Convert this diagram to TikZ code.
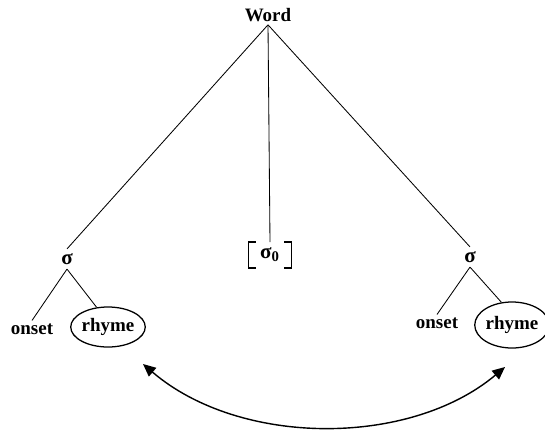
\documentclass[tikz,border=0pt]{standalone}
\usepackage{fontspec}
\setmainfont{Liberation Serif}
\usepackage{tikz}
\usetikzlibrary{arrows.meta, shapes.geometric}

\begin{document}
\begin{tikzpicture}[
    lbl/.style={font=\bfseries\fontsize{13.5}{15}\selectfont, inner sep=2pt},
    sig/.style={font=\bfseries\fontsize{15}{17}\selectfont, inner sep=3pt},
    circled/.style={lbl, draw, ellipse, line width=0.9pt, inner sep=0pt},
    branch/.style={line width=0.6pt}]
    \useasboundingbox (0,0) rectangle (13.625,10.725);

    \node[lbl] (word) at (6.7,10.35) {Word};

    \node[sig] (sigL) at (1.675,4.25) {σ};
    \node[sig, inner xsep=8pt, inner ysep=4pt] (sigM) at (6.75,4.35) {σ\textsubscript{0}};
    \node[sig] (sigR) at (11.75,4.3) {σ};

    \node[lbl] (onsetL) at (0.8,2.5) {onset};
    \node[circled, minimum width=1.75cm, minimum height=1.0cm] (rhymeL) at (2.7,2.55) {rhyme};
    \node[lbl] (onsetR) at (10.925,2.65) {onset};
    \node[circled, minimum width=1.6cm, minimum height=1.15cm] (rhymeR) at (12.8,2.6) {rhyme};

    % brackets round the middle syllable
    \draw[line width=0.8pt] ([xshift=5pt]sigM.north west) -| (sigM.south west) -- ++(5pt,0);
    \draw[line width=0.8pt] ([xshift=-5pt]sigM.north east) -| (sigM.south east) -- ++(-5pt,0);

    \draw[branch] (word.south) -- (sigL.north);
    \draw[branch] (word.south) -- (sigM.north);
    \draw[branch] (word.south) -- (sigR.north);

    \draw[branch] (sigL.south) -- (onsetL.north);
    \draw[branch] (sigL.south) -- (rhymeL.120);
    \draw[branch] (sigR.south) -- (onsetR.north);
    \draw[branch] (sigR.south) -- (rhymeR.115);

    \coordinate (tipL) at (3.575,1.625);
    \coordinate (tipR) at (12.625,1.55);
    \draw[line width=1pt, {Triangle[length=9pt,width=8pt]}-{Triangle[length=9pt,width=8pt]}]
        (tipL) .. controls (6.0,-0.45) and (10.25,-0.45) .. (tipR);
\end{tikzpicture}
\end{document}
